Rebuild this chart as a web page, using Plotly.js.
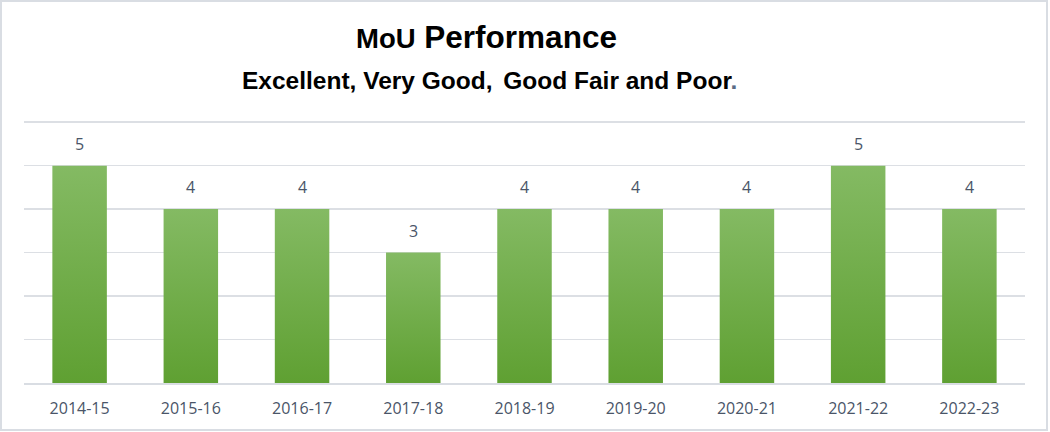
<!DOCTYPE html>
<html>
<head>
<meta charset="utf-8">
<script src="https://cdn.plot.ly/plotly-3.0.1.min.js"></script>
<style>
html,body{margin:0;padding:0;background:#fff;}
#wrap{position:relative;width:1050px;height:432px;}
#chart{width:1050px;height:432px;}
#frame{position:absolute;left:0;top:0;width:1048px;height:431px;box-sizing:border-box;border:2px solid #d9dde3;pointer-events:none;}
</style>
</head>
<body>
<div id="wrap"><div id="chart"></div><div id="frame"></div></div>
<script>
const categories = ["2014-15","2015-16","2016-17","2017-18","2018-19","2019-20","2020-21","2021-22","2022-23"];
const values = [5,4,4,3,4,4,4,5,4];

const labelFont = {family: 'Open Sans, sans-serif', size: 16, color: '#4a5568'};

const trace = {
  type: 'bar',
  x: categories,
  y: values,
  marker: {color: '#70ad47'},
  hoverinfo: 'none'
};

const valueLabels = categories.map(function(c, i){
  return {xref: 'x', yref: 'y', x: c, y: values[i], text: String(values[i]),
          showarrow: false, xanchor: 'center', yanchor: 'bottom', yshift: 9, font: labelFont};
});

const ymax = 6.05;
const plotTop = 383 - 261 * ymax / 6;

const layout = {
  width: 1050, height: 432,
  margin: {l: 24, r: 25, t: plotTop, b: 49},
  paper_bgcolor: '#ffffff', plot_bgcolor: '#ffffff',
  bargap: 0.51,
  showlegend: false,
  xaxis: {
    type: 'category',
    showgrid: false, zeroline: false,
    showline: true, linecolor: '#d9dde3', linewidth: 2,
    ticks: '', ticklen: 0, ticklabelstandoff: 10,
    tickfont: {family: 'Open Sans, sans-serif', size: 16, color: '#4a5568'}
  },
  yaxis: {
    range: [0, ymax], dtick: 1,
    showticklabels: false,
    showgrid: true, gridcolor: '#dcdfe4', gridwidth: 1.5,
    zeroline: false, showline: false, ticks: ''
  },
  annotations: [
    {xref: 'paper', yref: 'paper', x: (486-24)/1001, y: (383-37)/(383-plotTop), xanchor: 'center', yanchor: 'middle',
     text: '<b><span style="font-size:27.5px">MoU</span> Performance</b>', showarrow: false,
     font: {family: 'Liberation Sans, Arial, sans-serif', size: 31.5, color: '#000000'}},
    {xref: 'paper', yref: 'paper', x: (489-24)/1001, y: (383-80)/(383-plotTop), xanchor: 'center', yanchor: 'middle',
     text: '<b>Excellent, Very Good,<span style="font-size:14px">&nbsp;</span> Good Fair and Poor<span style="color:#5b6b85">.</span></b>', showarrow: false,
     font: {family: 'Liberation Sans, Arial, sans-serif', size: 24.5, color: '#000000'}}
  ].concat(valueLabels)
};

Plotly.newPlot('chart', [trace], layout, {staticPlot: true, displayModeBar: false}).then(function(gd){
  const svg = gd.querySelector('svg.main-svg');
  const ns = 'http://www.w3.org/2000/svg';
  let defs = svg.querySelector('defs');
  if (!defs) { defs = document.createElementNS(ns, 'defs'); svg.insertBefore(defs, svg.firstChild); }
  const g = document.createElementNS(ns, 'linearGradient');
  g.setAttribute('id', 'barGrad');
  g.setAttribute('x1', '0'); g.setAttribute('y1', '0'); g.setAttribute('x2', '0'); g.setAttribute('y2', '1');
  [['0%', '#84ba63'], ['100%', '#5fa032']].forEach(function(s){
    const st = document.createElementNS(ns, 'stop');
    st.setAttribute('offset', s[0]); st.setAttribute('stop-color', s[1]);
    g.appendChild(st);
  });
  defs.appendChild(g);
  gd.querySelectorAll('.bars .point path').forEach(function(p){
    p.style.fill = 'url(#barGrad)';
  });
});
</script>
</body>
</html>
